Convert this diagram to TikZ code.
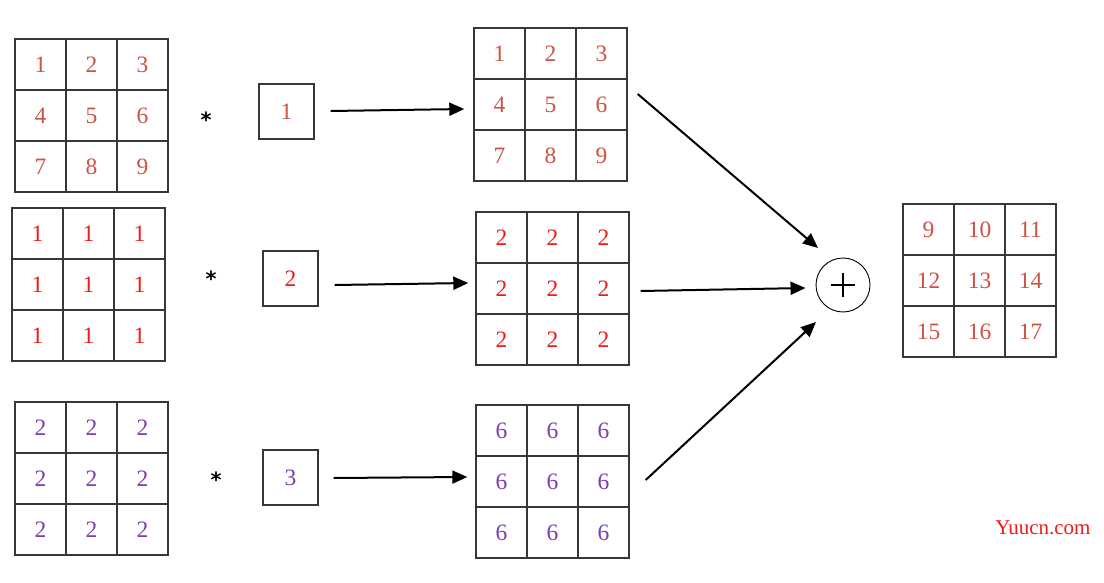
\documentclass[tikz,border=0pt]{standalone}
\usepackage{fontspec}
\newfontfamily\wmfont{Liberation Serif}
\newfontfamily\digfont{Liberation Serif}
\newfontfamily\starfont{DejaVu Sans}
\usetikzlibrary{arrows.meta,calc}
\definecolor{cA}{RGB}{204,84,70}
\definecolor{cR}{RGB}{240,28,28}
\definecolor{cP}{RGB}{125,62,175}
\definecolor{gridline}{RGB}{55,55,55}
\tikzset{
  cell/.style={draw=gridline, line width=1.4pt, minimum size=51pt, inner sep=0pt, font=\digfont\fontsize{23.5}{25}\selectfont},
  kernel/.style={draw=gridline, line width=1.4pt, minimum size=55pt, inner sep=0pt, font=\digfont\fontsize{23.5}{25}\selectfont},
  star/.style={font=\starfont\fontsize{21}{22}\selectfont\bfseries, inner sep=0pt},
  arr/.style={line width=2pt, -{Triangle[length=15pt,width=13pt]}},
  plusnode/.style={circle, draw=black, line width=0.9pt, minimum size=54pt, inner sep=0pt}
}
\newcommand\mygrid[5]{%
  \foreach \v [count=\i from 0] in {#5} {
    \pgfmathtruncatemacro\rr{floor(\i/3)}
    \pgfmathtruncatemacro\cc{mod(\i,3)}
    \node[cell, text=#4] (#1-\rr\cc) at ({#2+25.5+51*\cc},{#3+25.5+51*\rr}) {\v};
  }%
}
\begin{document}
\begin{tikzpicture}[x=1pt,y=-1pt]
\useasboundingbox[fill=white] (0,0) rectangle (1104,583);
% input grids
\mygrid{A1}{15}{39}{cA}{1,2,3,4,5,6,7,8,9}
\mygrid{A2}{12}{208}{cR}{1,1,1,1,1,1,1,1,1}
\mygrid{A3}{15}{402}{cP}{2,2,2,2,2,2,2,2,2}
% stars
\node[star] (st1) at (206,120) {*};
\node[star] (st2) at (211,279) {*};
\node[star] (st3) at (216,480) {*};
% kernels
\node[kernel, text=cA] (k1) at (286.5,111.5) {1};
\node[kernel, text=cR] (k2) at (290.5,278.5) {2};
\node[kernel, text=cP] (k3) at (290.5,477.5) {3};
% result grids
\mygrid{B1}{474}{28}{cA}{1,2,3,4,5,6,7,8,9}
\mygrid{B2}{476}{212}{cR}{2,2,2,2,2,2,2,2,2}
\mygrid{B3}{476}{405}{cP}{6,6,6,6,6,6,6,6,6}
% output grid
\mygrid{C}{903}{204}{cA}{9,10,11,12,13,14,15,16,17}
% plus
\node[plusnode] (plus) at (843,285) {};
\draw[line width=1.3pt] ($(plus.center)+(-12,0)$) -- ($(plus.center)+(12,0)$);
\draw[line width=1.3pt] ($(plus.center)+(0,-12)$) -- ($(plus.center)+(0,12)$);
% arrows kernel -> result
\draw[arr] ($(k1.east)+(16,-0.5)$) -- ($(B1-10.west)+(-9,4.5)$);
\draw[arr] ($(k2.east)+(16,6.5)$) -- ($(B2-10.west)+(-7,-5.5)$);
\draw[arr] ($(k3.east)+(15,0.5)$) -- ($(B3-10.west)+(-8,-4.5)$);
% arrows result -> plus
\coordinate (s1) at ($(B1-12.east)+(10,-10.5)$);
\coordinate (e1) at ($(plus.center)+(-25,-37)$);
\draw[arr] (s1) -- (e1);
\coordinate (s2) at ($(B2-12.east)+(11,2.5)$);
\coordinate (e2) at ($(plus.west)+(-10,3)$);
\draw[arr] (s2) -- (e2);
\coordinate (s3) at ($(B3-12.east)+(16,-1.5)$);
\coordinate (e3) at ($(plus.center)+(-27,37)$);
\draw[arr] (s3) -- (e3);
% watermark
\node[text=cR, font=\wmfont\fontsize{21}{23}\selectfont] (wm) at (1043,528) {Yuucn.com};
\end{tikzpicture}
\end{document}
